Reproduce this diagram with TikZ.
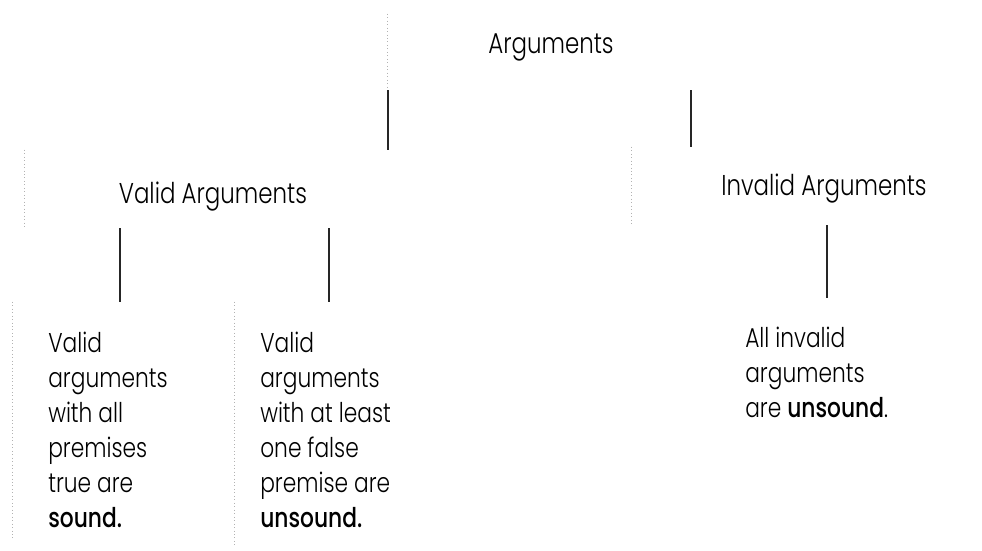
\documentclass[tikz,border=0pt]{standalone}
\usepackage{fontspec}
\setmainfont{Poppins}[UprightFont={* Light}, BoldFont={* Medium}, FakeStretch=0.8]
\usetikzlibrary{fit}
\begin{document}
\begin{tikzpicture}[x=0.75pt,y=-0.75pt,
  lbl/.style={font=\fontsize{21.5}{26}\selectfont, inner sep=0pt},
  body/.style={font=\fontsize{20.4}{26.25}\selectfont, inner sep=0pt, align=left, anchor=base west},
  box/.style={inner sep=0pt, draw=none},
  leftedge/.style={draw=black!30, dotted, line width=0.6pt},
  link/.style={draw=black!85, line width=1pt}]
\useasboundingbox (0,0) rectangle (982,550);

% frames of the six boxes
\node[box, fit={(388,14) (770,90)}] (topbox) {};
\node[box, fit={(25,150) (440,228)}] (validbox) {};
\node[box, fit={(632,147) (975,225)}] (invalidbox) {};
\node[box, fit={(13,302) (225,540)}] (soundbox) {};
\node[box, fit={(235,302) (470,547)}] (unsoundbox) {};
\node[box, fit={(735,298) (975,545)}] (allbox) {};

% faint left borders
\foreach \b in {topbox,validbox,invalidbox,soundbox,unsoundbox}
  \draw[leftedge] (\b.north west) -- (\b.south west);

% labels (a multi-line node sits on the baseline of its last line)
\node[lbl, anchor=base] (args) at (551,53) {Arguments};
\node[lbl, anchor=base] (valid) at (213,203) {Valid Arguments};
\node[lbl, anchor=base] (invalid) at (824,195) {Invalid Arguments};
\node[body] (sound) at (48,527) {Valid\\arguments\\with all\\premises\\true are\\\textbf{sound.}};
\node[body] (unsound) at (260,527) {Valid\\arguments\\with at least\\one false\\premise are\\\textbf{unsound.}};
\node[body] (allinv) at (745,417) {All invalid\\arguments\\are \textbf{unsound}.};

% connectors
\coordinate (xa) at (388,0);
\coordinate (xb) at (691,0);
\coordinate (xc) at (120,0);
\coordinate (xd) at (329,0);
\coordinate (xe) at (827,0);
\draw[link] (topbox.south -| xa) -- (validbox.north -| xa);
\draw[link] (topbox.south -| xb) -- (invalidbox.north -| xb);
\draw[link] (validbox.south -| xc) -- (soundbox.north -| xc);
\draw[link] (validbox.south -| xd) -- (unsoundbox.north -| xd);
\draw[link] (invalidbox.south -| xe) -- (allbox.north -| xe);
\end{tikzpicture}
\end{document}
